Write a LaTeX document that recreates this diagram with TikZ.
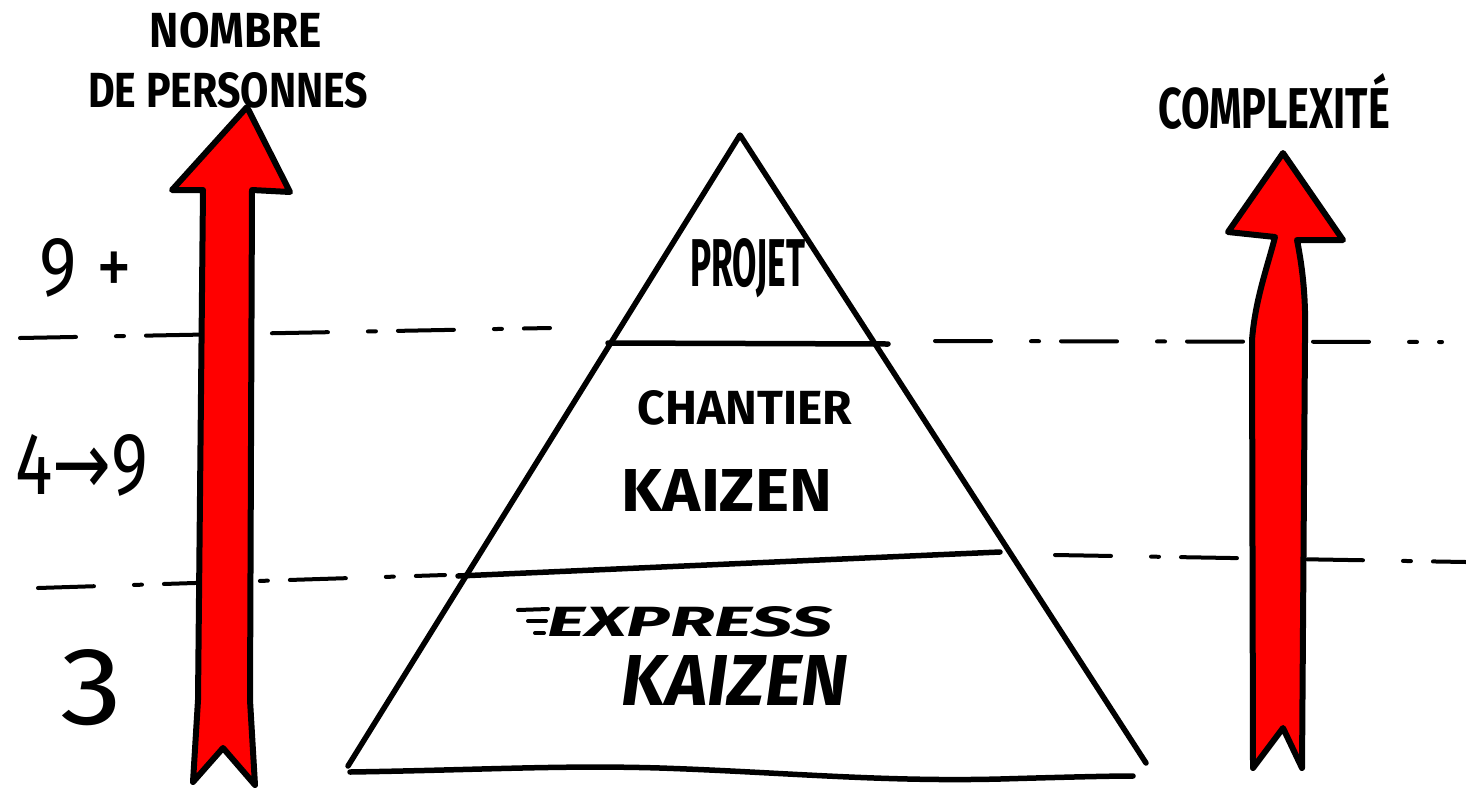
\documentclass[tikz,border=0pt]{standalone}
\usepackage{fontspec}
\setmainfont{Fira Sans}
\newfontfamily\dvfont{DejaVu Sans}
\definecolor{arrowred}{RGB}{255,0,0}
\newcommand{\fitbox}[3]{\resizebox{#1pt}{#2pt}{#3}}
\tikzset{
  outline/.style={line width=5.5pt, line join=round, line cap=round},
  redarrow/.style={draw=black, fill=arrowred, line width=6pt, line join=round},
  levelline/.style={line width=4pt, line cap=round, dash pattern=on 56pt off 40pt on 8pt off 22pt},
  lbl/.style={inner sep=0pt, outer sep=0pt, text=black},
  speed/.style={line width=4pt, line cap=round},
}
\begin{document}
\begin{tikzpicture}[x=1pt,y=-1pt]
\useasboundingbox[fill=white] (0,0) rectangle (1466,788);

% level lines (dash-dot)
\draw[levelline] (20,338) -- (550,328);
\draw[levelline] (935,341) -- (1442,342);
\draw[levelline] (38,588) -- (445,575);
\draw[levelline] (1055,555) -- (1466,562);

% left red arrow
\draw[redarrow] (247,107) -- (290,192) -- (252,190) -- (250,700) -- (255,785)
  -- (223,748) -- (193,782) -- (198,700) -- (203,190) -- (172,190) -- cycle;

% right red arrow
\draw[redarrow] (1283,153) -- (1343,240) -- (1297,240)
  .. controls (1303,270) and (1306,300) .. (1305,340) -- (1302,768)
  -- (1283,728) -- (1253,768) -- (1252,340)
  .. controls (1255,300) and (1268,265) .. (1275,237) -- (1228,232) -- cycle;

% pyramid
\coordinate (apex) at (740,135);
\coordinate (bl) at (348,766);
\coordinate (br) at (1146,763);
\draw[outline] (bl) -- (apex) -- (br);
\draw[outline] (350,772) .. controls (480,770) and (560,765) .. (660,768)
  .. controls (780,772) and (880,782) .. (1000,779)
  .. controls (1070,777) and (1110,776) .. (1133,776);
\draw[outline] (608,343) -- (888,344);
\draw[outline] (458,576) -- (1000,552);

% axis titles
\node[lbl] (nombre) at (236,30) {\fitbox{172}{35}{\bfseries NOMBRE}};
\node[lbl] (personnes) at (228,90) {\fitbox{280}{35}{\bfseries DE PERSONNES}};
\node[lbl] (complexite) at (1274,101) {\fitbox{232}{55}{\bfseries COMPLEXITÉ}};

% numbers
\node[lbl] (neufplus) at (86,268) {\fitbox{92}{57}{9 +}};
\node[lbl] (quatreneuf) at (82,465) {\fitbox{133}{60}{4{\dvfont →}9}};
\node[lbl] (trois) at (92,688) {\fitbox{62}{75}{3}};

% pyramid labels
\node[lbl] (projet) at (748,268) {\fitbox{115}{48}{\bfseries PROJET}};
\node[lbl] (chantier) at (745,408) {\fitbox{214}{34}{\bfseries CHANTIER}};
\node[lbl] (kaizen1) at (727,490) {\fitbox{210}{42}{\bfseries KAIZEN}};
\node[lbl] (express) at (690,622) {\fitbox{285}{30}{\bfseries\itshape EXPRESS}};
\node[lbl] (kaizen2) at (735,680) {\fitbox{226}{50}{\bfseries\itshape KAIZEN}};

% speed lines before EXPRESS
\draw[speed] (518,610) -- (548,609);
\draw[speed] (528,621) -- (546,621);
\draw[speed] (535,633) -- (544,633);
\end{tikzpicture}
\end{document}
